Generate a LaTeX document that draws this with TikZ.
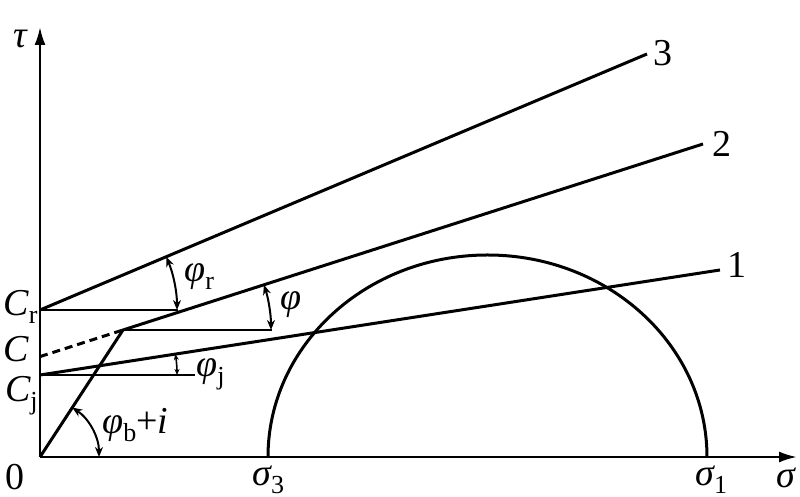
\documentclass[tikz,border=0pt]{standalone}
\usepackage{fontspec}
\setmainfont{Liberation Serif}
\usetikzlibrary{arrows.meta,calc}
\newcommand\sbx[1]{\raisebox{-0.45ex}{\fontsize{13}{14}\selectfont #1}}
\begin{document}
\begin{tikzpicture}[x=0.5pt,y=0.5pt,
  thickline/.style={line width=1.5pt},
  thinline/.style={line width=1pt},
  axisline/.style={line width=1.2pt,-{Latex[length=9pt,width=5.5pt]}},
  anglearc/.style={line width=1pt,{Stealth[length=5pt,width=4pt]}-{Stealth[length=5pt,width=4pt]}},
  smallarc/.style={line width=0.8pt,{Stealth[length=3pt,width=2.5pt]}-{Stealth[length=3pt,width=2.5pt]}},
  lbl/.style={inner sep=0pt,font=\fontsize{19}{22}\selectfont}]
\useasboundingbox (0,0) rectangle (800,497);
% key points
\coordinate (O) at (40,40);
\coordinate (Tend) at (40,470);
\coordinate (Send) at (797,40);
\coordinate (Cr) at (40,187);
\coordinate (C) at (40,140.4);
\coordinate (Cj) at (40,122);
\coordinate (K) at (123,167);
\coordinate (E3) at (647,443);
\coordinate (E2) at (703,353);
\coordinate (E1) at (720,227);
\coordinate (Hr) at (178,187);
\coordinate (Hk) at (272,167);
\coordinate (Hj) at (195,122);
\coordinate (S3) at (268,40);
\coordinate (S1) at (707,40);
% axes
\draw[axisline] (O) -- (Tend);
\draw[axisline] (O) -- (Send);
% strength lines
\draw[thickline] (Cr) -- (E3);
\draw[thickline] (O) -- (K) -- (E2);
\draw[thickline,dash pattern=on 4pt off 2.5pt] (C) -- (K);
\draw[thickline] (Cj) -- (E1);
% horizontal references
\draw[thinline] (Cr) -- (Hr);
\draw[thinline] (K) -- (Hk);
\draw[thinline] (Cj) -- (Hj);
% Mohr circle
\draw[thickline] (S3) arc[start angle=180,end angle=0,x radius=219.5,y radius=202];
% angle arcs
\draw[anglearc] ($(Cr)+(137,0)$) arc[start angle=0,end angle=22.87,radius=137];
\draw[anglearc] ($(K)+(148,0)$) arc[start angle=0,end angle=17.78,radius=148];
\draw[smallarc] ($(Cj)+(137,0)$) arc[start angle=0,end angle=8.78,radius=137];
\draw[anglearc] ($(O)+(59,0)$) arc[start angle=0,end angle=56.83,radius=59];
% labels
\node[lbl] (ltau) at (20,458) {\itshape τ};
\node[lbl] (lsig) at (786,19) {\itshape σ};
\node[lbl] (lzero) at (15,20) {0};
\node[lbl,anchor=west] (ls3) at (252,17) {\itshape σ\sbx{\upshape 3}};
\node[lbl,anchor=west] (ls1) at (695,17) {\itshape σ\sbx{\upshape 1}};
\node[lbl,anchor=east] (lCr) at (38,190) {\itshape C\sbx{\upshape r}};
\node[lbl] (lC) at (16,148) {\itshape C};
\node[lbl,anchor=east] (lCj) at (38,101) {\itshape C\sbx{\upshape j}};
\node[lbl,anchor=west] (lpr) at (184,220) {\itshape φ\sbx{\upshape r}};
\node[lbl] (lp) at (291,192) {\itshape φ};
\node[lbl,anchor=west] (lpj) at (196,123) {\itshape φ\sbx{\upshape j}};
\node[lbl,anchor=west] (lpb) at (102,72) {\itshape φ\sbx{\upshape b}\upshape +\itshape i};
\node[lbl] (l3) at (663,444) {3};
\node[lbl] (l2) at (722,353) {2};
\node[lbl] (l1) at (737,232) {1};
\end{tikzpicture}
\end{document}
